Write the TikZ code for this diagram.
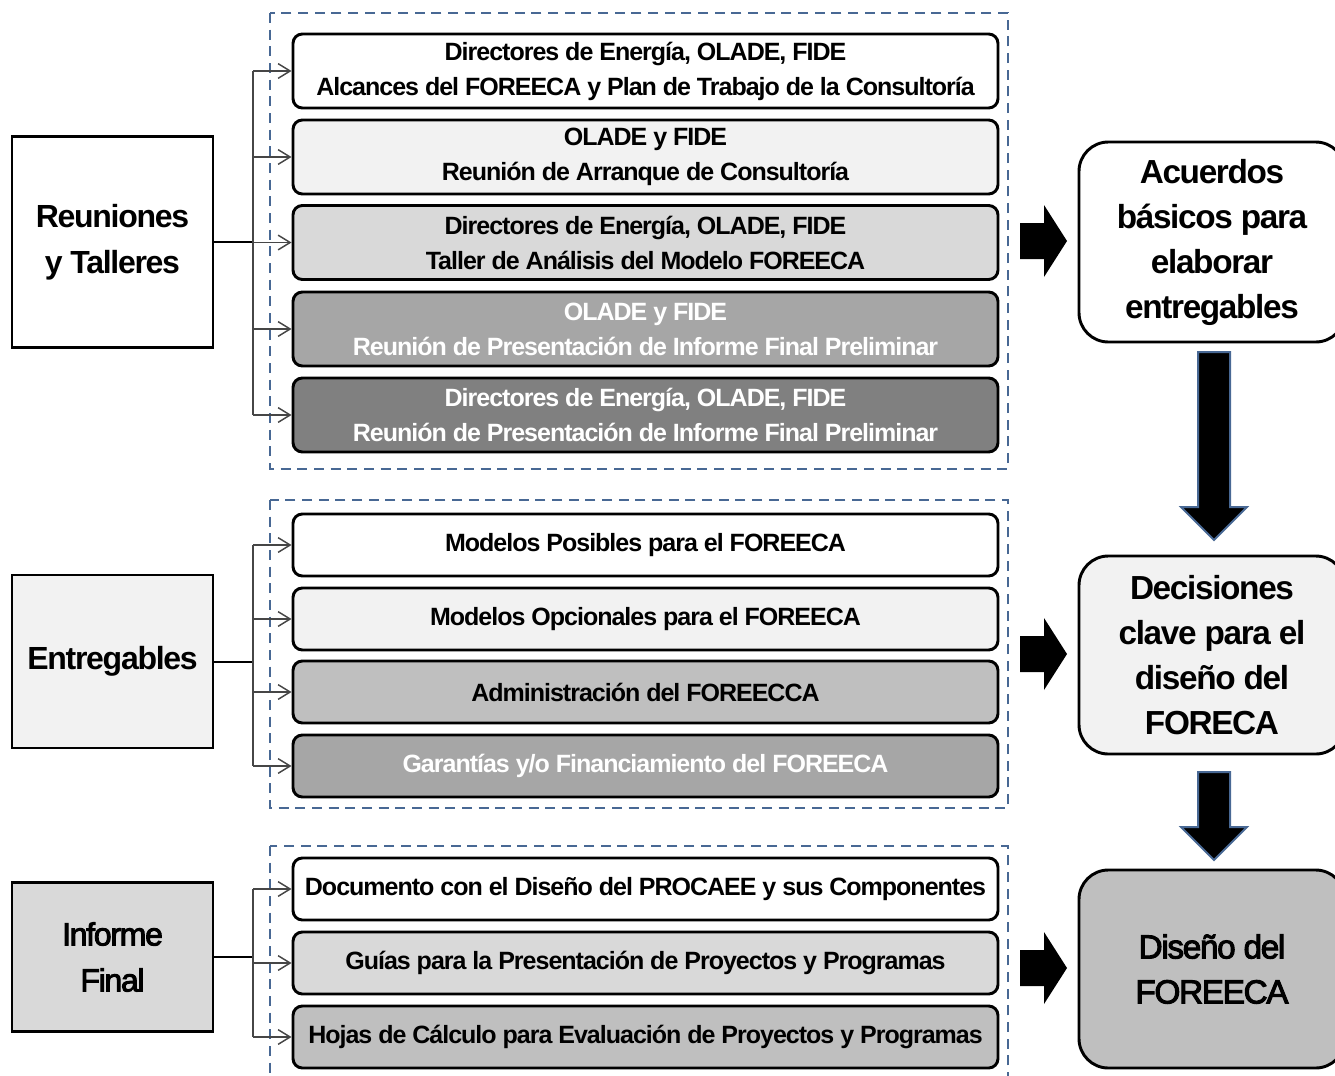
\documentclass[tikz,border=0pt]{standalone}
\usepackage{fontspec}
\setmainfont{Liberation Sans}[LetterSpace=-4]
\newfontfamily\mymedium{Liberation Sans}[LetterSpace=-4, FakeBold=3]
\usetikzlibrary{arrows.meta}
\definecolor{dashblue}{RGB}{72,104,148}
\definecolor{linegray}{RGB}{70,70,70}
\definecolor{fA}{RGB}{242,242,242}
\definecolor{fB}{RGB}{217,217,217}
\definecolor{fC}{RGB}{191,191,191}
\definecolor{fD}{RGB}{166,166,166}
\definecolor{fE}{RGB}{128,128,128}
\newcommand\myib{\fontsize{18.75pt}{26.25pt}\selectfont\bfseries}
\newcommand\myleft{\fontsize{24pt}{34.5pt}\selectfont\bfseries}
\newcommand\myleftmed{\mymedium\fontsize{24pt}{34.5pt}\selectfont}
\newcommand\myright{\fontsize{25pt}{33.75pt}\selectfont\bfseries}
\newcommand\myrightmed{\mymedium\fontsize{25pt}{33.75pt}\selectfont}
\tikzset{
  ibox/.style={draw=black, line width=2.2pt, rounded corners=7pt, minimum width=528.75pt, inner sep=0pt, align=center, font=\myib},
  tallbox/.style={ibox, minimum height=55.5pt},
  lowbox/.style={ibox, minimum height=46.5pt},
  wtext/.style={text=white},
  lbox/.style={draw=black, line width=2.2pt, minimum width=150.75pt, inner sep=0pt, align=center, font=\myleft},
  rbox/.style={draw=black, line width=2.2pt, rounded corners=22pt, minimum width=199.5pt, minimum height=148.5pt, inner sep=0pt, align=center, font=\myright},
  group/.style={draw=dashblue, line width=2.2pt, dash pattern=on 7.5pt off 5pt},
  mainline/.style={draw=black, line width=1.5pt},
  trunk/.style={draw=linegray, line width=1.1pt},
  branch/.style={draw=linegray, line width=1.1pt, -{Straight Barb[length=9pt,width=11pt,line width=1.1pt]}},
  blockarrow/.style={fill=black},
  downarrow/.style={fill=black, draw=dashblue, line width=1.5pt, line join=miter}
}
\begin{document}
\begin{tikzpicture}[x=0.75pt,y=-0.75pt]
\useasboundingbox (0,0) rectangle (1335,1075);
\clip (0,0) rectangle (1335,1075);

% dashed groups
\draw[group] (270,13) rectangle (1008,469);
\draw[group] (270,500) rectangle (1008,808);
\draw[group] (270,846) rectangle (1008,1095);

% left boxes
\node[lbox, fill=white, minimum height=158.25pt] (reun) at (112.5,242) {Reuniones\\y Talleres};
\node[lbox, fill=fA, minimum height=129.75pt] (entr) at (112.5,661.5) {Entregables};
\node[lbox, fill=fB, minimum height=111.75pt, font=\myleftmed] (info) at (112.5,957) {Informe\\Final};

% top group boxes
\node[tallbox, fill=white] (t1) at (645.5,71) {Directores de Energía, OLADE, FIDE\\Alcances del FOREECA y Plan de Trabajo de la Consultoría};
\node[tallbox, fill=fA] (t2) at (645.5,157) {OLADE y FIDE\\Reunión de Arranque de Consultoría};
\node[tallbox, fill=fB] (t3) at (645.5,242.5) {Directores de Energía, OLADE, FIDE\\Taller de Análisis del Modelo FOREECA};
\node[tallbox, fill=fD, wtext] (t4) at (645.5,329) {OLADE y FIDE\\Reunión de Presentación de Informe Final Preliminar};
\node[tallbox, fill=fE, wtext] (t5) at (645.5,415) {Directores de Energía, OLADE, FIDE\\Reunión de Presentación de Informe Final Preliminar};

% middle group boxes
\node[lowbox, fill=white] (m1) at (645.5,545) {Modelos Posibles para el FOREECA};
\node[lowbox, fill=fA] (m2) at (645.5,619) {Modelos Opcionales para el FOREECA};
\node[lowbox, fill=fC] (m3) at (645.5,692) {Administración del FOREECCA};
\node[lowbox, fill=fD, wtext] (m4) at (645.5,766) {Garantías y/o Financiamiento del FOREECA};

% bottom group boxes
\node[lowbox, fill=white] (b1) at (645.5,889) {Documento con el Diseño del PROCAEE y sus Componentes};
\node[lowbox, fill=fB] (b2) at (645.5,963) {Guías para la Presentación de Proyectos y Programas};
\node[lowbox, fill=fC] (b3) at (645.5,1037) {Hojas de Cálculo para Evaluación de Proyectos y Programas};

% right boxes
\node[rbox, fill=white, minimum height=150pt] (acu) at (1212,242) {Acuerdos\\básicos para\\elaborar\\entregables};
\node[rbox, fill=fA] (dec) at (1212,655) {Decisiones\\clave para el\\diseño del\\FORECA};
\node[rbox, fill=fC, font=\myrightmed] (dis) at (1212,969) {Diseño del\\FOREECA};

% trunk x
\coordinate (tx) at (253,0);

% connectors top
\draw[mainline] (reun.east) -- (reun.east -| tx);
\draw[trunk] (t1.west -| tx) -- (t5.west -| tx);
\foreach \n in {t1,t2,t3,t4,t5} \draw[branch] (\n.west -| tx) -- (\n.west);

% connectors middle
\draw[mainline] (entr.east) -- (entr.east -| tx);
\draw[trunk] (m1.west -| tx) -- (m4.west -| tx);
\foreach \n in {m1,m2,m3,m4} \draw[branch] (\n.west -| tx) -- (\n.west);

% connectors bottom
\draw[mainline] (info.east) -- (info.east -| tx);
\draw[trunk] (b1.west -| tx) -- (b3.west -| tx);
\foreach \n in {b1,b2,b3} \draw[branch] (\n.west -| tx) -- (\n.west);

% block arrows to the right
\foreach \c in {241,654,968}
  \fill[blockarrow] (1020,\c-18) -- (1044,\c-18) -- (1044,\c-36) -- (1067,\c) -- (1044,\c+36) -- (1044,\c+18) -- (1020,\c+18) -- cycle;

% down arrows
\filldraw[downarrow] (1198,352) -- (1230,352) -- (1230,507) -- (1247,507) -- (1214,540) -- (1181,507) -- (1198,507) -- cycle;
\filldraw[downarrow] (1198,772) -- (1230,772) -- (1230,827) -- (1247,827) -- (1214,860) -- (1181,827) -- (1198,827) -- cycle;
\end{tikzpicture}
\end{document}
